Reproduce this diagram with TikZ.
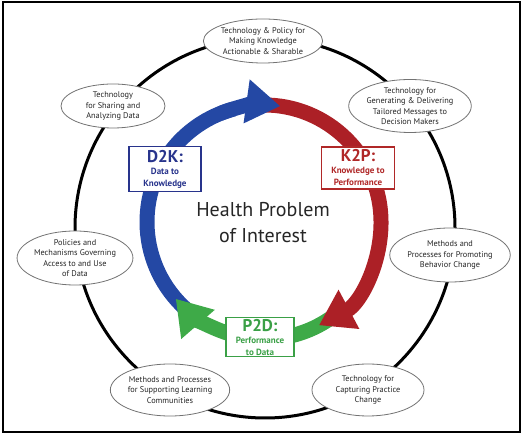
\documentclass[tikz,border=0pt]{standalone}
\usepackage{fontspec}
\setmainfont{PT Sans}
\usetikzlibrary{shapes.geometric,arrows.meta}

\definecolor{ringblue}{RGB}{36,72,164}
\definecolor{ringred}{RGB}{172,32,38}
\definecolor{ringgreen}{RGB}{62,170,72}
\definecolor{boxblue}{RGB}{40,52,140}
\definecolor{boxred}{RGB}{176,40,40}
\definecolor{boxgreen}{RGB}{58,160,70}

\newcommand\phaselabel[3]{{\fontsize{17}{16}\selectfont #1}\\{\fontsize{9}{10}\selectfont #2}\\{\fontsize{9}{10}\selectfont #3}}

\begin{document}
\begin{tikzpicture}[x=1pt,y=1pt,
    topic/.style={ellipse,draw=black!55,fill=white,line width=0.8pt,inner sep=0pt,
        align=center,text=black!85,font=\fontsize{8.3}{10.5}\selectfont},
    phase/.style={rectangle,draw,fill=white,line width=1.3pt,inner sep=0pt,
        align=center,font=\bfseries},
    band/.style={line width=15pt},
    head/.style={-{Triangle[length=34pt,width=42pt]}}]

    \useasboundingbox (0,0) rectangle (526,435);
    \draw[line width=1.5pt] (3,3) rectangle (520,433);

    \coordinate (hub) at (265,207);
    \coordinate (cyc) at (264,213);
    \draw[line width=3pt] (hub) circle[radius=190];

    % topics round the big circle
    \node[topic,minimum width=104pt,minimum height=44pt] (policy) at (263,394) {Technology \& Policy for\\Making Knowledge\\Actionable \& Sharable};
    \node[topic,minimum width=110pt,minimum height=52pt] (tailor) at (410,329) {Technology for\\Generating \& Delivering\\Tailored Messages to\\Decision Makers};
    \node[topic,minimum width=104pt,minimum height=44pt] (share) at (113,329) {Technology\\for Sharing and\\Analyzing Data};
    \node[topic,minimum width=106pt,minimum height=54pt] (access) at (75,177) {Policies and\\Mechanisms Governing\\Access to and Use\\of Data};
    \node[topic,minimum width=110pt,minimum height=54pt] (behave) at (450,180) {Methods and\\Processes for Promoting\\Behavior Change};
    \node[topic,minimum width=112pt,minimum height=52pt] (learn) at (170,45) {Methods and Processes\\for Supporting Learning\\Communities};
    \node[topic,minimum width=112pt,minimum height=52pt] (capture) at (368,45) {Technology for\\Capturing Practice\\Change};

    % the cycle: blue, green, red, then blue head on top
    \draw[band,ringblue] ([shift={(234:117)}]cyc) arc[start angle=234,end angle=105,radius=117];
    \draw[band,ringgreen,head] ([shift={(-48:117)}]cyc) arc[start angle=-48,end angle=-139,radius=117];
    \draw[band,ringred,head] ([shift={(96:117)}]cyc) arc[start angle=96,end angle=-62,radius=117];
    \draw[band,ringblue,head] ([shift={(112:117)}]cyc) arc[start angle=112,end angle=82,radius=117];

    \node[phase,draw=boxblue,text=boxblue,minimum width=72pt,minimum height=45pt] (d2k) at (165,266) {\phaselabel{D2K:}{Data to}{Knowledge}};
    \node[phase,draw=boxred,text=boxred,minimum width=73pt,minimum height=42pt] (k2p) at (358,267) {\phaselabel{K2P:}{Knowledge to}{Performance}};
    \node[phase,draw=boxgreen,text=boxgreen,minimum width=68pt,minimum height=39pt] (p2d) at (260,98) {\phaselabel{P2D:}{Performance}{to Data}};

    \node[align=center,text=black!85,font=\fontsize{20}{26}\selectfont] (issue) at (263,212) {Health Problem\\of Interest};
\end{tikzpicture}
\end{document}
